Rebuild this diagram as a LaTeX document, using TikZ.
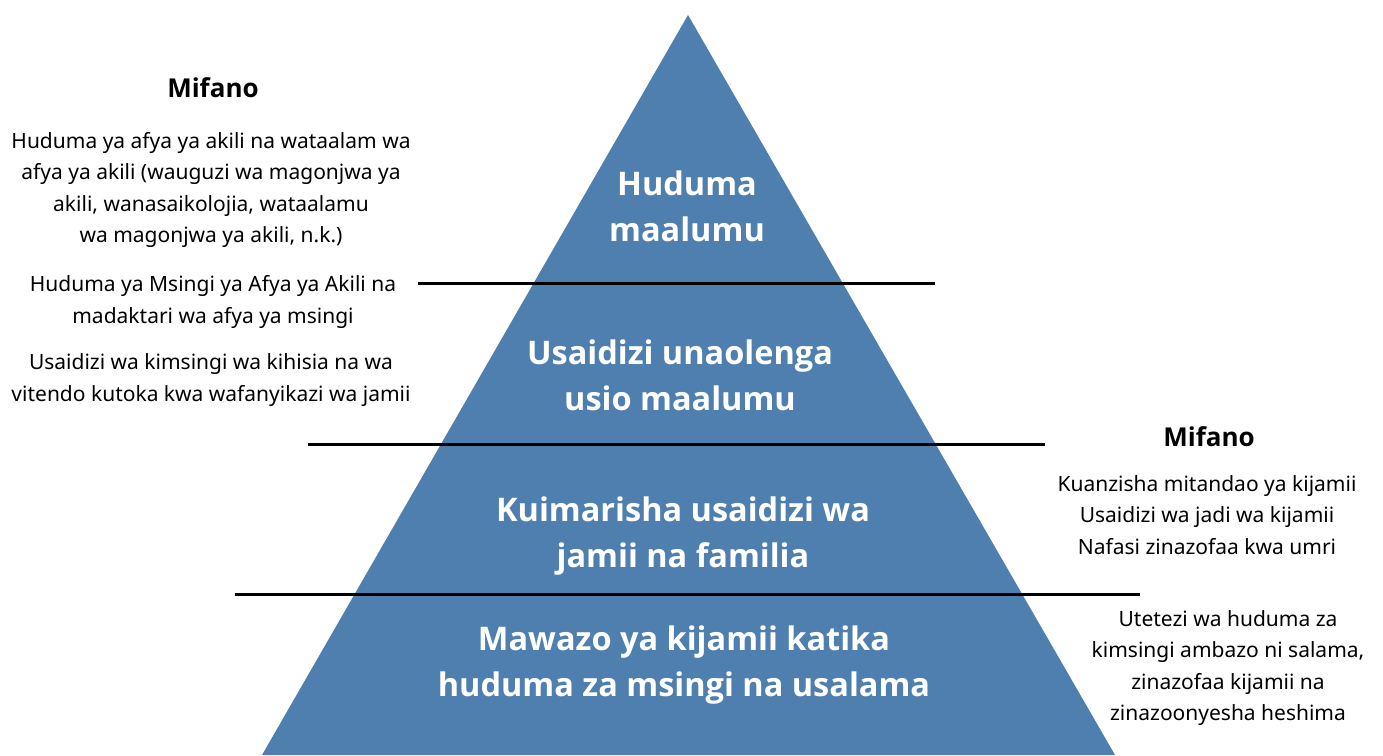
\documentclass[tikz,border=0pt]{standalone}
\usepackage{fontspec}
\setmainfont{Open Sans}
\newfontfamily\sidefont{Noto Sans}
\usetikzlibrary{positioning}
\definecolor{pyrblue}{RGB}{79,127,175}
\tikzstyle{level} = [text=white,align=center,font=\fontsize{32.5}{46}\selectfont\bfseries]
\tikzstyle{example} = [text=black,align=center,inner sep=0pt,font=\sidefont\fontsize{21}{31.5}\selectfont]
\tikzstyle{heading} = [text=black,inner sep=0pt,font=\fontsize{26}{30}\selectfont\bfseries]
\tikzstyle{divider} = [draw=black,line width=3pt]

\begin{document}
\begin{tikzpicture}[x=1pt,y=-1pt]
\useasboundingbox (0,0) rectangle (1383,755);

% pyramid
\coordinate (apex) at (688,15);
\coordinate (baseL) at (262,755);
\coordinate (baseR) at (1115,755);
\fill[pyrblue] (apex) -- (baseR) -- (baseL) -- cycle;

% dividers
\coordinate (d1a) at (418,283); \coordinate (d1b) at (935,283);
\coordinate (d2a) at (308,444); \coordinate (d2b) at (1045,444);
\coordinate (d3a) at (235,594); \coordinate (d3b) at (1140,594);
\draw[divider] (d1a) -- (d1b);
\draw[divider] (d2a) -- (d2b);
\draw[divider] (d3a) -- (d3b);

% levels
\node (lev1) [level] at (687,206) {Huduma\\maalumu};
\node (lev2) [level] at (680,375) {Usaidizi unaolenga\\usio maalumu};
\node (lev3) [level] at (683,536) {Kuimarisha usaidizi wa\\jamii na familia};
\node (lev4) [level] at (684,665) {Mawazo ya kijamii katika\\huduma za msingi na usalama};

% examples left
\node (headL) [heading] at (213,88) {Mifano};
\node (exL1) [example] at (211,190) {Huduma ya afya ya akili na wataalam wa\\afya ya akili (wauguzi wa magonjwa ya\\akili, wanasaikolojia, wataalamu\\wa magonjwa ya akili, n.k.)};
\node (exL2) [example] at (213,302) {Huduma ya Msingi ya Afya ya Akili na\\madaktari wa afya ya msingi};
\node (exL3) [example] at (211,380) {Usaidizi wa kimsingi wa kihisia na wa\\vitendo kutoka kwa wafanyikazi wa jamii};

% examples right
\node (headR) [heading] at (1209,437) {Mifano};
\node (exR1) [example] at (1207,515) {Kuanzisha mitandao ya kijamii\\Usaidizi wa jadi wa kijamii\\Nafasi zinazofaa kwa umri};
\node (exR2) [example] at (1228,668) {Utetezi wa huduma za\\kimsingi ambazo ni salama,\\zinazofaa kijamii na\\zinazoonyesha heshima};

\end{tikzpicture}
\end{document}
